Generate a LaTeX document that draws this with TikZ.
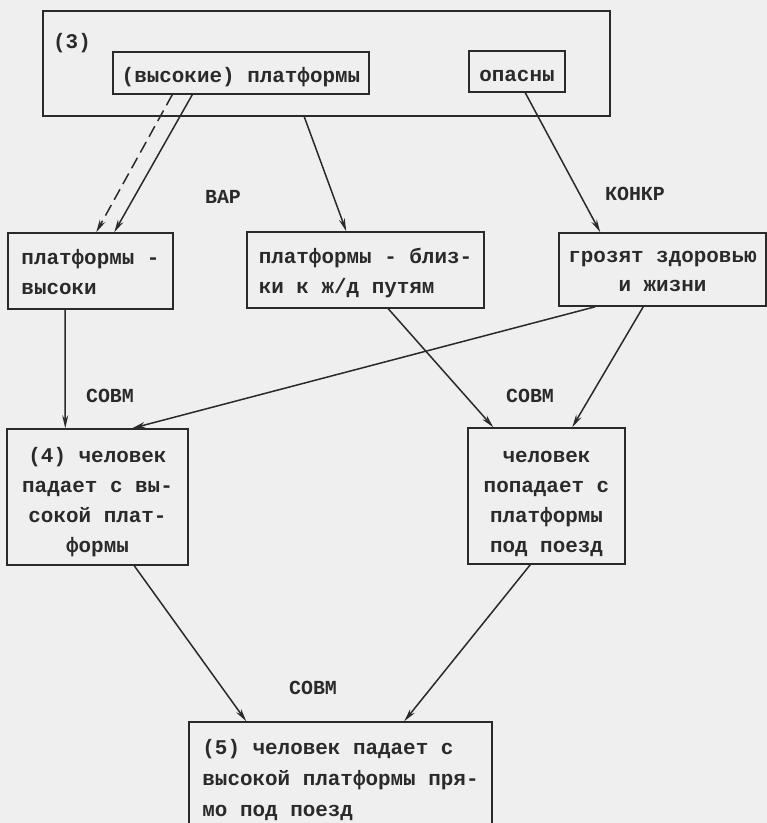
\documentclass[tikz,border=0pt]{standalone}
\usepackage{fontspec}
\setmainfont{Liberation Mono}
\usetikzlibrary{arrows.meta,calc}
\definecolor{ink}{HTML}{2A2A2A}
\definecolor{paper}{HTML}{EFEFEF}
\begin{document}
\begin{tikzpicture}[x=1bp,y=-1bp,
  box/.style={draw=ink, line width=1.5bp, rectangle, inner sep=0pt},
  txt/.style={text=ink, inner sep=0pt, font=\fontsize{21}{30}\selectfont\bfseries},
  lbl/.style={text=ink, inner sep=0pt, font=\fontsize{20}{22}\selectfont\bfseries},
  arr/.style={draw=ink, line width=1.5bp, -{Stealth[length=13bp,width=6bp]}},
]
\fill[paper] (0,0) rectangle (767,823);
\useasboundingbox (0,0) rectangle (767,823);
\clip (0,0) rectangle (767,823);

% group (3)
\node[box, minimum width=567bp, minimum height=105bp] (g3) at (326.5,63.5) {};
\node[txt] (n3) at (72,43) {(3)};
\node[box, minimum width=256bp, minimum height=42bp] (hp) at (241,73) {};
\node[txt] (hpt) at ($(hp.center)+(0,4)$) {(высокие) платформы};
\node[box, minimum width=96bp, minimum height=41bp] (op) at (517,71.5) {};
\node[txt] (opt) at ($(op.center)+(0,4)$) {опасны};

% second row
\node[box, minimum width=165bp, minimum height=76bp] (pv) at (90.5,271) {};
\node[txt, align=left] (pvt) at ($(pv.center)+(0,1)$) {платформы -\\высоки};
\node[box, minimum width=237bp, minimum height=76bp] (pb) at (365.5,270) {};
\node[txt, align=left] (pbt) at ($(pb.center)+(0,3)$) {платформы - близ-\\ки к ж/д путям};
\node[box, minimum width=207bp, minimum height=73bp] (gz) at (662.5,269.5) {};
\node[txt, align=center] (gzt) at ($(gz.center)+(0,2)$) {грозят здоровью\\и жизни};

% third row
\node[box, minimum width=181bp, minimum height=136bp] (c4) at (97.5,497) {};
\node[txt, align=center] (c4t) at ($(c4.center)+(0,5)$)
  {(4) человек\\падает с вы-\\сокой плат-\\формы};
\node[box, minimum width=157bp, minimum height=136bp] (cp) at (546.5,496) {};
\node[txt, align=center] (cpt) at ($(cp.center)+(0,8)$)
  {человек\\попадает с\\платформы\\под поезд};

% result
\node[box, minimum width=303bp, minimum height=116bp] (c5) at (340.5,780) {};
\node[txt, align=left, font=\fontsize{21}{31}\selectfont\bfseries] (c5t) at (c5.center)
  {(5) человек падает с\\высокой платформы пря-\\мо под поезд};

% relation labels
\node[lbl] (var) at (223,197) {ВАР};
\node[lbl] (konkr) at (635,194) {КОНКР};
\node[lbl] (sovm1) at (110,396) {СОВМ};
\node[lbl] (sovm2) at (530,396) {СОВМ};
\node[lbl] (sovm3) at (313,688) {СОВМ};

% connectors
\draw[arr, dash pattern=on 12bp off 6bp] ($(hp.south west)+(60,0)$) -- ($(pv.north west)+(89,0)$);
\draw[arr] ($(hp.south west)+(80,0)$) -- ($(pv.north west)+(107,0)$);
\draw[arr] ($(g3.south west)+(262,0)$) -- ($(pb.north west)+(100,0)$);
\draw[arr] ($(op.south west)+(57,0)$) -- ($(gz.north west)+(42,0)$);
\draw[arr] ($(pv.south west)+(58,0)$) -- ($(c4.north west)+(59,0)$);
\draw[arr] ($(gz.south west)+(37,0)$) -- ($(c4.north west)+(126,0)$);
\draw[arr] ($(pb.south west)+(142,0)$) -- ($(cp.north west)+(26,0)$);
\draw[arr] ($(gz.south west)+(85,0)$) -- ($(cp.north west)+(105,0)$);
\draw[arr] ($(c4.south west)+(128,0)$) -- ($(c5.north west)+(58,0)$);
\draw[arr] ($(cp.south west)+(63,0)$) -- ($(c5.north west)+(216,0)$);
\end{tikzpicture}
\end{document}
